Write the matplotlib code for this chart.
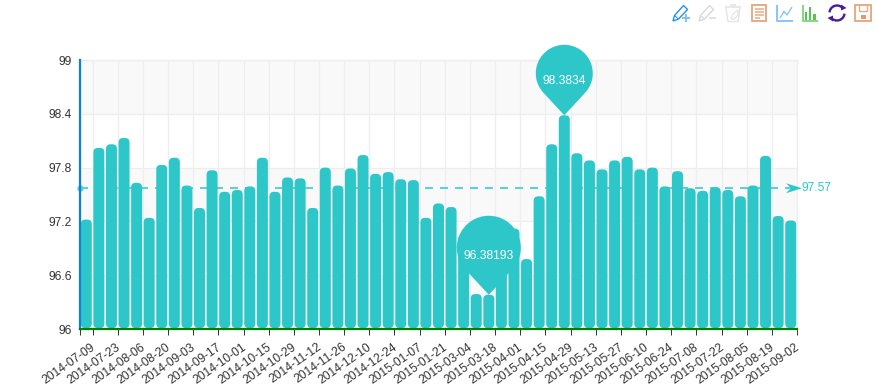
import matplotlib
matplotlib.use('Agg')
import matplotlib.pyplot as plt
import numpy as np
from matplotlib.patches import FancyBboxPatch, PathPatch, Rectangle, Arc, Polygon
from matplotlib.path import Path
from matplotlib.transforms import Affine2D, ScaledTranslation

plt.rcParams['font.family'] = ['Liberation Sans', 'DejaVu Sans']

# values, one per week (some weeks are missing)
values = [97.22, 98.02, 98.06, 98.13, 97.63, 97.24, 97.83, 97.91, 97.60, 97.35,
          97.77, 97.53, 97.55, 97.59, 97.91, 97.53, 97.69, 97.68, 97.35, 97.80,
          97.60, 97.79, 97.94, 97.73, 97.75, 97.67, 97.66, 97.24, 97.40, 97.36,
          97.05, 96.39, 96.38193, 97.00, 97.12, 96.78, 97.48, 98.06, 98.3834, 97.96,
          97.88, 97.78, 97.88, 97.92, 97.78, 97.80, 97.59, 97.76, 97.57, 97.54,
          97.58, 97.55, 97.48, 97.60, 97.93, 97.26, 97.21]
tick_labels = ["2014-07-09", "2014-07-23", "2014-08-06", "2014-08-20", "2014-09-03",
               "2014-09-17", "2014-10-01", "2014-10-15", "2014-10-29", "2014-11-12",
               "2014-11-26", "2014-12-10", "2014-12-24", "2015-01-07", "2015-01-21",
               "2015-03-04", "2015-03-18", "2015-04-01", "2015-04-15", "2015-04-29",
               "2015-05-13", "2015-05-27", "2015-06-10", "2015-06-24", "2015-07-08",
               "2015-07-22", "2015-08-05", "2015-08-19", "2015-09-02"]
y_ticks = [96, 96.6, 97.2, 97.8, 98.4, 99]
mean_value = 97.57
max_value = 98.3834
min_value = 96.38193

TEAL = "#2ec7c9"
W, H = 876, 388

fig = plt.figure(figsize=(W / 100, H / 100), dpi=100)
ax = fig.add_axes([80 / W, 1 - 329 / H, 717 / W, 269 / H])
x = np.arange(len(values))
ax.set_xlim(-0.5, len(values) - 0.5)
ax.set_ylim(96, 99)

# alternating bands and grid
for i in range(0, len(y_ticks) - 1, 2):
    ax.axhspan(y_ticks[i], y_ticks[i + 1], color="#f9f9f9", lw=0, zorder=0)
edge_ticks = np.concatenate(([-0.5], x[::2] + 0.5))
edge_ticks[-1] = len(values) - 0.5
ax.set_xticks(edge_ticks, minor=True)
ax.set_xticks(x[::2])
ax.set_xticklabels(tick_labels, rotation=35, ha="right", va="top",
                   rotation_mode="anchor", fontsize=8.64, color="#333333")
ax.set_yticks(y_ticks)
ax.set_yticklabels(["96", "96.6", "97.2", "97.8", "98.4", "99"], fontsize=8.64, color="#333333")
ax.tick_params(axis="x", which="major", length=0, pad=0)
ax.tick_params(axis="x", which="minor", length=4, width=0.7, color="#333333")
ax.tick_params(axis="y", length=0, pad=6)
ax.grid(True, axis="y", color="#eeeeee", lw=0.9, zorder=1)
ax.grid(True, axis="x", which="minor", color="#eeeeee", lw=0.9, zorder=1)
ax.set_axisbelow(True)
for lab in ax.get_xticklabels():
    lab.set_transform(lab.get_transform() + ScaledTranslation(4 / 100, -12 / 100, fig.dpi_scale_trans))

for side in ["top", "right"]:
    ax.spines[side].set_color("#eeeeee")
    ax.spines[side].set_linewidth(0.9)
ax.spines["left"].set_color("#0a82d8")
ax.spines["left"].set_linewidth(1.6)
ax.spines["bottom"].set_color("#008000")
ax.spines["bottom"].set_linewidth(1.6)
ax.spines["left"].set_zorder(6)
ax.spines["bottom"].set_zorder(6)

# mean line sits behind the bars
ax.plot([x[0] - 0.5, x[-1] + 0.5], [mean_value, mean_value], color="#5bd3d5", lw=1.44,
        linestyle=(0, (4, 3.5)), dash_capstyle="butt", zorder=2)

# rounded bars, aspect keeps the corners circular in pixels
px_per_cat = 717 / len(values)
px_per_unit = 269 / 3
bar_width = 0.875
for xi, v in zip(x, values):
    ax.add_patch(FancyBboxPatch((xi - bar_width / 2, 96.01), bar_width, v - 96.01,
                                boxstyle="round,pad=0,rounding_size=0.36",
                                mutation_aspect=px_per_cat / px_per_unit,
                                fc=TEAL, ec="none", zorder=3))


def pixel_patch(verts, codes, xi, yi, **kw):
    # shape given in pixels around a data point
    ox, oy = ax.transData.transform((xi, yi))
    p = PathPatch(Path(verts, codes), transform=Affine2D().translate(ox, oy), clip_on=False, **kw)
    ax.add_patch(p)


def draw_pin(xi, value, radius, dist):
    alpha = np.degrees(np.arccos(radius / dist))
    arc = Path.arc(-90 + alpha, 270 - alpha)
    verts = arc.vertices * radius + [0, dist]
    verts = np.vstack(([0, 0], verts, [0, 0]))
    codes = np.concatenate(([Path.MOVETO, Path.LINETO], arc.codes[1:], [Path.CLOSEPOLY]))
    pixel_patch(verts, codes, xi, value, fc=TEAL, ec="none", zorder=5)
    ax.annotate(f"{value}", xy=(xi, value), xytext=(0, dist - 8), textcoords="offset pixels",
                ha="center", va="center", color="white", fontsize=8.64, zorder=7)


draw_pin(values.index(max_value), max_value, 28.5, 42)
draw_pin(values.index(min_value), min_value, 32, 47)

# ends of the mean line
ax.plot([x[0] - 0.5], [mean_value], "o", color="#5bd3d5", ms=3.6, clip_on=False, zorder=5)
pixel_patch([(5, 0), (-11, 5), (-6, 0), (-11, -5), (5, 0)],
            [Path.MOVETO, Path.LINETO, Path.LINETO, Path.LINETO, Path.CLOSEPOLY],
            x[-1] + 0.5, mean_value, fc=TEAL, ec="none", zorder=5)
ax.annotate(f"{mean_value}", xy=(x[-1] + 0.5, mean_value), xytext=(5, 0), textcoords="offset pixels",
            ha="left", va="center", color=TEAL, fontsize=8.64)

# toolbox icons, pixel coordinates of the whole figure
tb = fig.add_axes([0, 0, 1, 1], facecolor="none")
tb.set_xlim(0, W)
tb.set_ylim(H, 0)
tb.axis("off")
ORANGE = "#e8ab84"


def stroke(pts, color, lw=0.9):
    xs, ys = zip(*pts)
    tb.plot(xs, ys, color=color, lw=lw, solid_capstyle="butt")


def pencil(ox, color):
    stroke([(ox + 0.5, 21), (ox + 2, 15.5), (ox + 11, 5.5), (ox + 15, 9.5), (ox + 6, 19), (ox + 0.5, 21)], color, 1.0)
    stroke([(ox + 2, 15.5), (ox + 6, 19)], color, 0.7)


pencil(672.5, "#1e90ff")
stroke([(682, 18), (690, 18)], "#87bff5", 1.4)
stroke([(686, 14), (686, 22)], "#87bff5", 1.4)
pencil(698.5, "#d8d8d8")
stroke([(709, 18), (716, 18)], "#e2e2e2", 1.4)

# trash
stroke([(725, 6.5), (741, 6.5)], "#e4e4e4", 1.2)
stroke([(730, 5), (736, 5)], "#e4e4e4", 1.2)
stroke([(726, 8), (728, 21.5), (738, 21.5), (740, 8)], "#e4e4e4", 1.0)
stroke([(731, 19), (733, 14), (738, 10), (738, 15), (734, 19), (731, 19)], "#e4e4e4", 0.9)

# data view
tb.add_patch(Rectangle((752, 5), 14, 16, fc="none", ec=ORANGE, lw=1.4))
for yy, xe in [(8.5, 763.5), (11.5, 763.5), (14.5, 763.5), (17.5, 760)]:
    stroke([(755, yy), (xe, yy)], ORANGE, 1.1)

# line type
stroke([(777, 4.5), (777, 21), (793, 21)], "#87c5fa", 1.4)
stroke([(780, 18), (784, 11.5), (787, 15), (792, 7)], "#87c5fa", 1.0)

# bar type
stroke([(802.5, 4.5), (802.5, 21), (818, 21)], "#80dc80", 1.4)
for bx, by in [(806, 12), (810, 6.5), (814.5, 14)]:
    tb.add_patch(Rectangle((bx - 1.2, by), 2.4, 20 - by, fc="#55c455", ec="none"))

# refresh
PURPLE = "#4b1a9a"
tb.add_patch(Arc((837, 13), 15, 15, theta1=185, theta2=310, color=PURPLE, lw=1.7))
tb.add_patch(Arc((837, 13), 15, 15, theta1=5, theta2=130, color=PURPLE, lw=1.7))
tb.add_patch(Polygon([(841, 4.5), (846.5, 8), (841, 10.5)], fc=PURPLE, ec="none"))
tb.add_patch(Polygon([(833, 15.5), (833, 21.5), (827.5, 18)], fc=PURPLE, ec="none"))

# save
tb.add_patch(Rectangle((855, 5), 15.5, 16, fc="none", ec=ORANGE, lw=1.4))
stroke([(859, 5), (859, 11), (867, 11), (867, 5)], ORANGE, 1.0)
tb.add_patch(Rectangle((860.5, 15), 5, 3.5, fc="#e09a6c", ec="none"))

fig.savefig("out.png", dpi=100)
plt.close(fig)
